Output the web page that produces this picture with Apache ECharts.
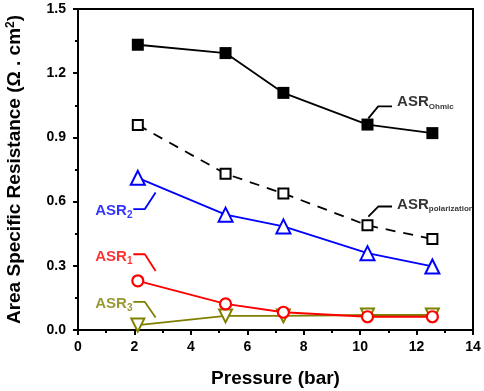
<!DOCTYPE html>
<html>
<head>
<meta charset="utf-8">
<script src="https://cdn.jsdelivr.net/npm/echarts@6/dist/echarts.min.js"></script>
<style>
  html, body { margin: 0; padding: 0; background: #fff; }
  #chart { width: 484px; height: 391px; }
</style>
</head>
<body>
<div id="chart"></div>
<script>
// pressure (bar)
var pressure = [2.12, 5.23, 7.28, 10.26, 12.56]
// area specific resistance (ohm.cm2)
var asrOhmic = [1.333, 1.294, 1.108, 0.960, 0.920]
var asrPolarization = [0.958, 0.730, 0.638, 0.489, 0.425]
var asr2 = [0.711, 0.539, 0.484, 0.359, 0.297]
var asr1 = [0.230, 0.122, 0.083, 0.062, 0.062]
var asr3 = [0.023, 0.066, 0.066, 0.070, 0.070]
var xTicks = [0, 2, 4, 6, 8, 10, 12, 14]
var yTicks = [0.0, 0.3, 0.6, 0.9, 1.2, 1.5]

// annotation leader lines (data coords) and label anchors
var notes = [
  { name: 'Ohmic', color: '#000000', line: [[10.29, 0.989], [10.64, 1.045], [11.13, 1.045]], at: [11.31, 1.064], side: 'right', sub: 'so' },
  { name: 'polarization', color: '#000000', line: [[10.29, 0.530], [10.64, 0.577], [11.13, 0.577]], at: [11.31, 0.586], side: 'right', sub: 'so' },
  { name: '2', color: '#0000ff', line: [[1.96, 0.565], [2.37, 0.565], [2.75, 0.643]], at: [1.93, 0.558], side: 'left', sub: 's' },
  { name: '1', color: '#ff0000', line: [[1.96, 0.354], [2.37, 0.354], [2.75, 0.276]], at: [1.93, 0.342], side: 'left', sub: 's' },
  { name: '3', color: '#808000', line: [[1.96, 0.131], [2.37, 0.131], [2.75, 0.058]], at: [1.93, 0.122], side: 'left', sub: 's' }
]

function pairs(ys) {
  return pressure.map(function (x, i) { return [x, ys[i]] })
}

var font = 'Liberation Sans, Arial, sans-serif'

var series = [
  {
    type: 'line', data: pairs(asrOhmic), symbol: 'rect', symbolSize: 12,
    itemStyle: { color: '#000' }, lineStyle: { color: '#000', width: 1.8 }, z: 5
  },
  {
    type: 'line', data: pairs(asrPolarization), symbol: 'rect', symbolSize: 10,
    itemStyle: { color: '#fff', borderColor: '#000', borderWidth: 2 },
    lineStyle: { color: '#000', width: 1.8, type: [10, 8] }, z: 5
  },
  {
    type: 'line', data: pairs(asr2), symbol: 'triangle', symbolSize: 14,
    itemStyle: { color: '#fff', borderColor: '#0000ff', borderWidth: 2 },
    lineStyle: { color: '#0000ff', width: 1.8 }, z: 5
  },
  {
    type: 'line', data: pairs(asr3), symbol: 'triangle', symbolRotate: 180, symbolSize: 13,
    itemStyle: { color: '#fff', borderColor: '#808000', borderWidth: 2 },
    lineStyle: { color: '#808000', width: 1.8 }, z: 4
  },
  {
    type: 'line', data: pairs(asr1), symbol: 'circle', symbolSize: 11,
    itemStyle: { color: '#fff', borderColor: '#ff0000', borderWidth: 2.2 },
    lineStyle: { color: '#ff0000', width: 1.8 }, z: 5
  }
]

notes.forEach(function (n) {
  series.push({
    type: 'line', data: n.line, symbol: 'none', silent: true,
    lineStyle: { color: n.color, width: 1.8 }, z: 3
  })
  series.push({
    type: 'scatter', data: [n.at], symbolSize: 0, silent: true,
    label: {
      show: true,
      position: n.side,
      distance: 0,
      color: n.color,
      formatter: '{b|ASR}{' + n.sub + '|' + n.name + '}',
      rich: {
        b: { fontFamily: font, fontWeight: 'bold', fontSize: 15, color: n.color },
        s: { fontFamily: font, fontWeight: 'bold', fontSize: 10, color: n.color, padding: [9, 0, 0, 0] },
        so: { fontFamily: font, fontWeight: 'bold', fontSize: 8, color: n.color, padding: [9, 0, 0, 0] }
      }
    }
  })
})

var chart = echarts.init(document.getElementById('chart'))
chart.setOption({
  animation: false,
  backgroundColor: '#fff',
  grid: {
    left: 78, right: 11, top: 9, bottom: 61,
    outerBoundsMode: 'none',
    show: true, borderColor: '#000', borderWidth: 2
  },
  xAxis: {
    type: 'value', min: xTicks[0], max: xTicks[xTicks.length - 1], interval: 2,
    name: 'Pressure (bar)', nameLocation: 'middle', nameGap: 39,
    nameTextStyle: { fontFamily: font, fontWeight: 'bold', fontSize: 19, color: '#000' },
    axisLine: { show: true, onZero: false, lineStyle: { color: '#000', width: 2 } },
    axisTick: { show: true, length: 5, lineStyle: { color: '#000', width: 2 } },
    minorTick: { show: true, splitNumber: 2, length: 3, lineStyle: { color: '#000', width: 2 } },
    axisLabel: { fontFamily: font, fontWeight: 'bold', fontSize: 14, color: '#000', margin: 10 },
    splitLine: { show: false }
  },
  yAxis: {
    type: 'value', min: yTicks[0], max: yTicks[yTicks.length - 1], interval: 0.3,
    name: 'Area Specific Resistance (Ω . cm{sup|2})', nameLocation: 'middle', nameGap: 53,
    nameTextStyle: {
      fontFamily: font, fontWeight: 'bold', fontSize: 19, color: '#000',
      rich: { sup: { fontFamily: font, fontWeight: 'bold', fontSize: 12, color: '#000', padding: [0, 0, 8, 0] } }
    },
    axisLine: { show: true, onZero: false, lineStyle: { color: '#000', width: 2 } },
    axisTick: { show: true, length: 5, lineStyle: { color: '#000', width: 2 } },
    minorTick: { show: true, splitNumber: 2, length: 3, lineStyle: { color: '#000', width: 2 } },
    axisLabel: {
      fontFamily: font, fontWeight: 'bold', fontSize: 14, color: '#000', margin: 12,
      formatter: function (v) { return v.toFixed(1) }
    },
    splitLine: { show: false }
  },
  series: series
})
</script>
</body>
</html>
